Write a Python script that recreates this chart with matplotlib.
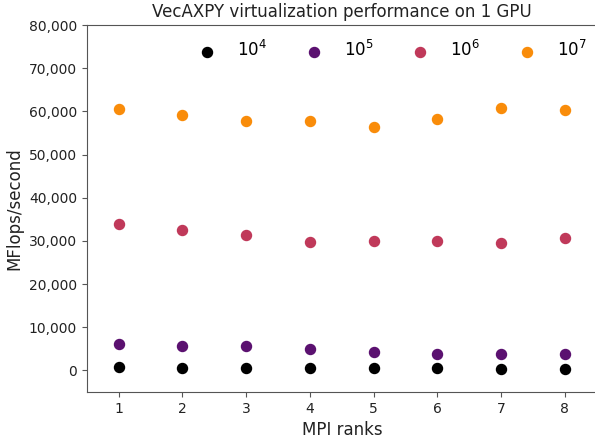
import matplotlib
matplotlib.use("Agg")
from matplotlib import pyplot as plt
from matplotlib.ticker import FuncFormatter

# MPI ranks on the x axis
ranks = [1, 2, 3, 4, 5, 6, 7, 8]

# MFlops/second for each vector size
flops_1e4 = [770, 540, 540, 540, 540, 620, 310, 310]
flops_1e5 = [6180, 5570, 5570, 4950, 4330, 3860, 3860, 3700]
flops_1e6 = [33850, 32460, 31300, 29680, 29910, 29910, 29450, 30600]
flops_1e7 = [60500, 59130, 57740, 57740, 56350, 58200, 60750, 60290]

labels = ["$10^4$", "$10^5$", "$10^6$", "$10^7$"]
colors = ["#000000", "#5b1170", "#c0395a", "#f98c0a"]

fig = plt.figure(figsize=(5.95, 4.41), dpi=100)
ax = fig.add_axes([0.146, 0.111, 0.857, 0.832])

series = [flops_1e4, flops_1e5, flops_1e6, flops_1e7]
for vals, lab, col in zip(series, labels, colors):
    ax.scatter(ranks, vals, s=52, color=col, label=lab, zorder=3)

ax.set_xlim(0.5, 8.5)
ax.set_ylim(-5000, 80000)
ax.set_xticks(ranks)
ax.set_yticks(range(0, 80001, 10000))
ax.yaxis.set_major_formatter(FuncFormatter(lambda v, p: "{:,.0f}".format(v)))

for sp in ax.spines.values():
    sp.set_color("#555555")
ax.tick_params(axis="both", colors="#555555", labelcolor="#222222", labelsize=10)

ax.set_xlabel("MPI ranks", fontsize=12, color="#222222")
ax.set_ylabel("MFlops/second", fontsize=12, color="#222222")
ax.set_title("VecAXPY virtualization performance on 1 GPU", fontsize=12, color="#222222")

ax.legend(loc="upper right", ncol=4, frameon=False, fontsize=12,
          bbox_to_anchor=(1.009, 1.0), columnspacing=1.8, handletextpad=0.8)

fig.savefig("out.png", dpi=100)
